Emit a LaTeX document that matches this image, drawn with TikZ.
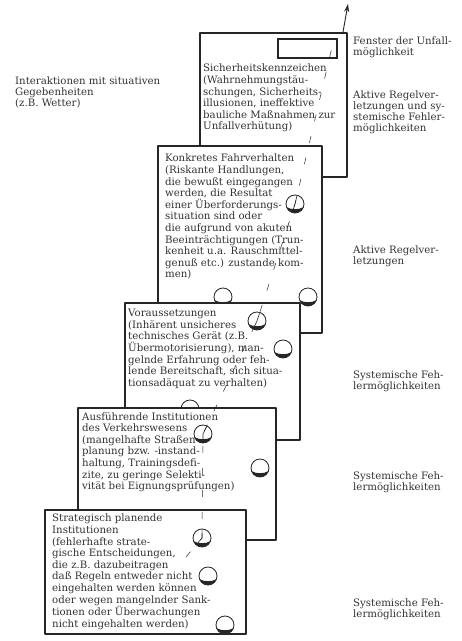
\documentclass[tikz,border=0pt]{standalone}
\usepackage{fontspec}
\setmainfont{DejaVu Serif}
\usetikzlibrary{calc,arrows.meta}
\definecolor{inkline}{RGB}{38,38,38}
\definecolor{inktext}{RGB}{50,50,50}
\tikzset{
  card/.style={fill=white,draw=inkline,line width=1.1pt,line join=round},
  cardtext/.style={anchor=north west,inner sep=0pt,align=left,text=inktext,
    font=\fontsize{10.2}{11.6}\selectfont},
  sidetext/.style={cardtext,font=\fontsize{10.2}{11}\selectfont},
  holeedge/.style={draw=inkline,line width=0.8pt},
  track/.style={draw=inkline,line width=0.5pt,dash pattern=on 7pt off 15pt},
  trackhit/.style={draw=inkline,line width=0.6pt},
}
\newcommand\cheesehole[1]{%
  \fill[white] (#1) circle[radius=9pt];
  \fill[inkline] ($(#1)+(200:9pt)$) arc[start angle=200,end angle=340,radius=9pt]
    .. controls ($(#1)+(4pt,-6pt)$) and ($(#1)+(-4pt,-6pt)$) .. cycle;
  \draw[holeedge] (#1) circle[radius=9pt];}
\begin{document}
\begin{tikzpicture}[x=1pt,y=1pt]
  \useasboundingbox (0,0) rectangle (462,641);
  % hole centres
  \coordinate (h2a) at (295,437);
  \coordinate (h2b) at (223,344);
  \coordinate (h2c) at (308,344);
  \coordinate (h3a) at (257,320);
  \coordinate (h3b) at (283,292);
  \coordinate (h3c) at (190,232);
  \coordinate (h4a) at (203,207);
  \coordinate (h4b) at (260,173);
  \coordinate (h5a) at (202,103);
  \coordinate (h5b) at (208,65);
  \coordinate (h5c) at (225,16);
  \coordinate (t0) at (186,84);
  \coordinate (winhit) at (333,598);
  \coordinate (arrbase) at (343,609);
  \coordinate (arrtip) at (348,637);
  % cards, back to front
  \draw[card] (200,464) rectangle (347,608);
  \draw[inkline,line width=1.5pt] (278,583) rectangle (337,602);
  \node[cardtext] (signs) at (203,577) {Sicherheitskennzeichen\\(Wahrnehmungst\"au-\\schungen, Sicherheits-\\illusionen, ineffektive\\bauliche Ma\ss nahmen zur\\Unfallverh\"utung)};
  \draw[card] (158,308) rectangle (322,495);
  \node[cardtext] (driving) at (165,487) {Konkretes Fahrverhalten\\(Riskante Handlungen,\\die bewu\ss t eingegangen\\werden, die Resultat\\einer \"Uberforderungs-\\situation sind oder\\die aufgrund von akuten\\Beeintr\"achtigungen (Trun-\\kenheit u.a. Rauschmittel-\\genu\ss\ etc.) zustande kom-\\men)};
  \cheesehole{h2a} \cheesehole{h2b} \cheesehole{h2c}
  \draw[card] (125,201) rectangle (300,338);
  \node[cardtext] (premises) at (128,332) {Voraussetzungen\\(Inh\"arent unsicheres\\technisches Ger\"at (z.B.\\\"Ubermotorisierung), man-\\gelnde Erfahrung oder feh-\\lende Bereitschaft, sich situa-\\tionsad\"aquat zu verhalten)};
  \cheesehole{h3a} \cheesehole{h3b} \cheesehole{h3c}
  \draw[card] (78,101) rectangle (276,233);
  \node[cardtext] (executive) at (82,229) {Ausf\"uhrende Institutionen\\des Verkehrswesens\\(mangelhafte Stra\ss en-\\planung bzw. -instand-\\haltung, Trainingsdefi-\\zite, zu geringe Selekti-\\vit\"at bei Eignungspr\"ufungen)};
  \cheesehole{h4a} \cheesehole{h4b}
  \draw[card] (45,7) rectangle (246,131);
  \node[cardtext] (strategic) at (52,127) {Strategisch planende\\Institutionen\\(fehlerhafte strate-\\gische Entscheidungen,\\die z.B. dazubeitragen\\da\ss\ Regeln entweder nicht\\eingehalten werden k\"onnen\\oder wegen mangelnder Sank-\\tionen oder \"Uberwachungen\\nicht eingehalten werden)};
  \cheesehole{h5a} \cheesehole{h5b} \cheesehole{h5c}
  % accident trajectory
  \draw[track] (t0) -- (h5a) -- (h4a) -- (h3a) -- (h2a) -- (winhit);
  \draw[trackhit] ($(h5a)!8pt!(t0)$) -- (h5a) -- ($(h5a)!8pt!(h4a)$);
  \draw[trackhit] ($(h4a)!8pt!(h5a)$) -- (h4a) -- ($(h4a)!8pt!(h3a)$);
  \draw[trackhit] ($(h3a)!8pt!(h4a)$) -- (h3a) -- ($(h3a)!8pt!(h2a)$);
  \draw[trackhit] ($(h2a)!8pt!(h3a)$) -- (h2a) -- ($(h2a)!8pt!(winhit)$);
  \draw[inkline,line width=0.9pt,-{Stealth[length=8pt,width=5pt]}] (arrbase) -- (arrtip);
  % labels beside the cards
  \node[sidetext] (weather) at (15,564) {Interaktionen mit situativen\\Gegebenheiten\\(z.B. Wetter)};
  \node[sidetext] (window label) at (353,604) {Fenster der Unfall-\\m\"oglichkeit};
  \node[sidetext] (active sys) at (353,550) {Aktive Regelver-\\letzungen und sy-\\stemische Fehler-\\m\"oglichkeiten};
  \node[sidetext] (active) at (353,395) {Aktive Regelver-\\letzungen};
  \node[sidetext] (sys a) at (353,270) {Systemische Feh-\\lerm\"oglichkeiten};
  \node[sidetext] (sys b) at (353,169) {Systemische Feh-\\lerm\"oglichkeiten};
  \node[sidetext] (sys c) at (353,42) {Systemische Feh-\\lerm\"oglichkeiten};
\end{tikzpicture}
\end{document}
